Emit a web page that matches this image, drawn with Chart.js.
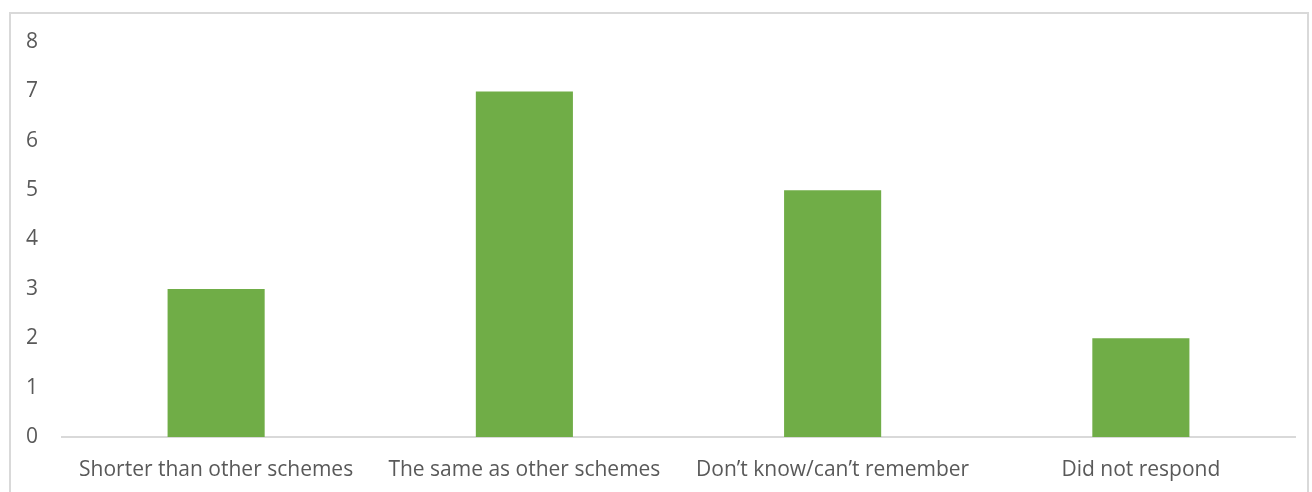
<!DOCTYPE html>
<html>
<head>
<meta charset="utf-8">
<script src="https://cdn.jsdelivr.net/npm/chart.js@4"></script>
<style>
  html, body { margin: 0; padding: 0; background: #fff; }
  #wrap { position: relative; width: 1312px; height: 492px; overflow: hidden; }
  #frame { position: absolute; left: 9px; top: 12px; width: 1300px; height: 520px;
           border: 2px solid #d9d9d9; box-sizing: border-box; }
  canvas { position: absolute; left: 0; top: 0; }
</style>
</head>
<body>
<div id="wrap">
  <div id="frame"></div>
  <canvas id="barChart" width="1312" height="492"></canvas>
</div>
<script>
// chart values
const categories = ['Shorter than other schemes', 'The same as other schemes', 'Don\u2019t know/can\u2019t remember', 'Did not respond'];
const responses = [3, 7, 5, 2];
const yTicks = [0, 1, 2, 3, 4, 5, 6, 7, 8];

const ctx = document.getElementById('barChart').getContext('2d');

const data = {
    labels: categories,
    datasets: [{
        label: 'Responses',
        data: responses,
        backgroundColor: '#70ad47',
        borderWidth: 0,
        categoryPercentage: 1,
        barPercentage: 0.315
    }]
};

const options = {
    responsive: false,
    animation: false,
    layout: { padding: { left: 0, right: 17, top: 42, bottom: 0 } },
    plugins: {
        legend: { display: false },
        tooltip: { enabled: false }
    },
    scales: {
        x: {
            grid: { display: false, drawTicks: false },
            border: { display: true, color: '#d9d9d9', width: 2 },
            ticks: { color: '#595959', font: { family: 'Open Sans', size: 21 }, padding: 20, maxRotation: 0 },
            afterFit: function (axis) { axis.height = 55; }
        },
        y: {
            min: 0,
            max: 8,
            afterBuildTicks: function (axis) { axis.ticks = yTicks.map(v => ({ value: v })); },
            grid: { display: false, drawTicks: false },
            border: { display: false },
            ticks: { color: '#595959', font: { family: 'Open Sans', size: 21 }, padding: 24 },
            afterFit: function (axis) { axis.width = 62; }
        }
    }
};

const myChart = new Chart(ctx, {
    type: 'bar',
    data: data,
    options: options
});
</script>
</body>
</html>
